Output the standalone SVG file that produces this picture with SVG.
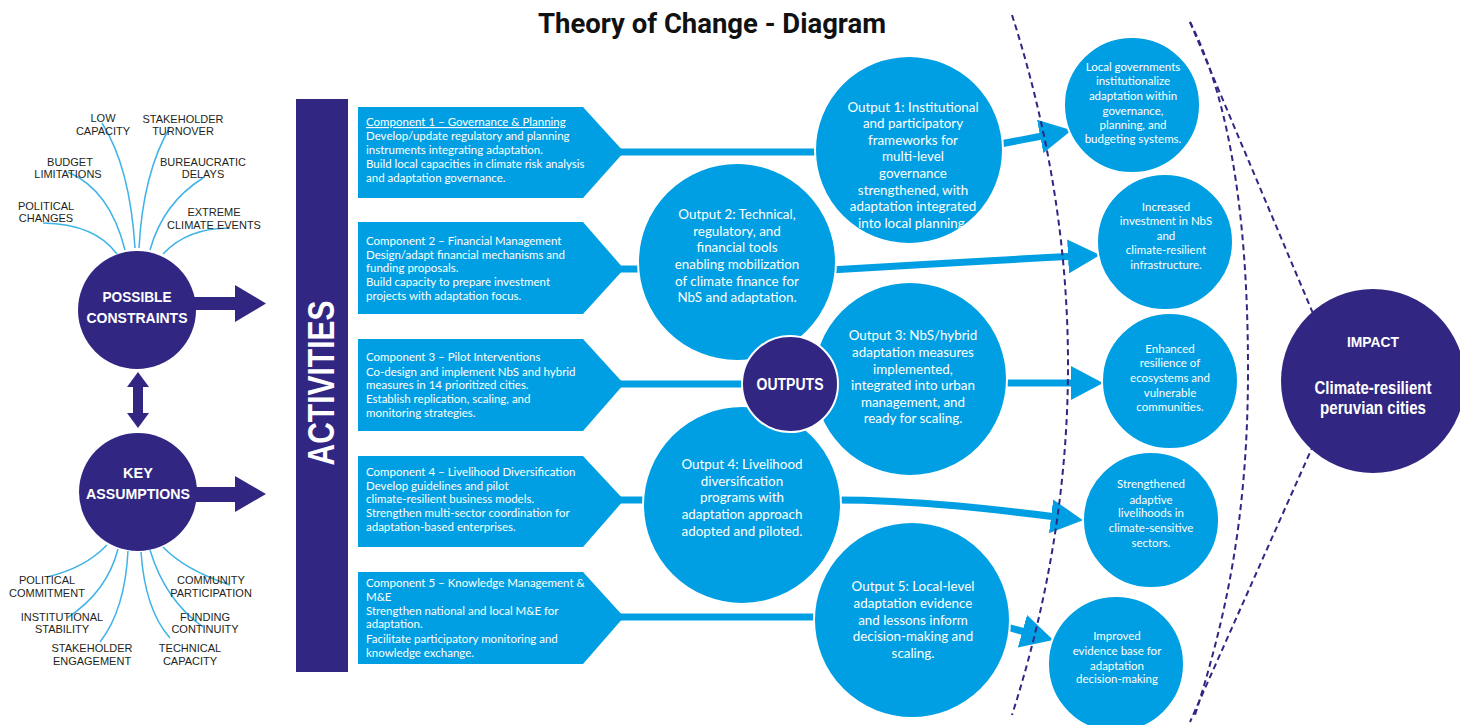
<svg xmlns="http://www.w3.org/2000/svg" width="1460" height="725" viewBox="0 0 1460 725">
<style>
.comp{fill:#009fe3}
.circ{fill:#009fe3;stroke:#fff;stroke-width:2}
.pur{fill:#312783}
.ct{font-family:Lato,"Liberation Sans",sans-serif;font-size:11.5px;fill:#fff}
.ot{font-family:Lato,"Liberation Sans",sans-serif;font-size:13.4px;fill:#fff;text-anchor:middle}
.rt{font-family:Lato,"Liberation Sans",sans-serif;font-size:11.5px;fill:#fff;text-anchor:middle}
.lbl{font-family:"Liberation Sans",Arial,sans-serif;font-size:11px;fill:#231f20;text-anchor:middle}
.wb{font-family:"Liberation Sans",Arial,sans-serif;font-weight:bold;fill:#fff;text-anchor:middle}
.thin{stroke:#3fb3e8;stroke-width:1.5;fill:none}
.conn{stroke:#009fe3;stroke-width:7;fill:none}
.dash{stroke:#312783;stroke-width:2;stroke-dasharray:6 4;fill:none}
</style>
<defs>
<marker id="ah" markerUnits="userSpaceOnUse" markerWidth="32" markerHeight="34" refX="10" refY="17" orient="auto">
<path d="M0,0 L32,17 L0,34 z" fill="#009fe3"/>
</marker>
</defs>

<text x="712" y="33" font-family="Roboto,'Liberation Sans',sans-serif" font-weight="bold" font-size="28" fill="#111" text-anchor="middle" textLength="348" lengthAdjust="spacingAndGlyphs">Theory of Change - Diagram</text>

<g id="constraint-lines">
<path class="thin" d="M43,223 Q95,224 117,254"/>
<path class="thin" d="M68,172 Q110,190 125,250"/>
<path class="thin" d="M102,123 Q130,167 135,248"/>
<path class="thin" d="M170,127 Q143,173 139,248"/>
<path class="thin" d="M203,178 Q163,203 150,250"/>
<path class="thin" d="M230,228 Q187,228 163,254"/>
<path class="thin" d="M107,545 Q85,568 47,577"/>
<path class="thin" d="M118,549 Q107,592 67,618"/>
<path class="thin" d="M128,551 Q125,610 100,642"/>
<path class="thin" d="M141,552 Q145,610 170,638"/>
<path class="thin" d="M150,550 Q165,600 203,627"/>
<path class="thin" d="M163,547 Q185,570 230,585"/>
</g>

<g id="constraint-labels">
<text class="lbl" x="103" y="122">LOW</text>
<text class="lbl" x="103" y="135">CAPACITY</text>
<text class="lbl" x="183" y="123">STAKEHOLDER</text>
<text class="lbl" x="183" y="135">TURNOVER</text>
<text class="lbl" x="70" y="166">BUDGET</text>
<text class="lbl" x="68" y="178">LIMITATIONS</text>
<text class="lbl" x="203" y="166">BUREAUCRATIC</text>
<text class="lbl" x="203" y="178">DELAYS</text>
<text class="lbl" x="46" y="210">POLITICAL</text>
<text class="lbl" x="46" y="222">CHANGES</text>
<text class="lbl" x="214" y="216">EXTREME</text>
<text class="lbl" x="214" y="229">CLIMATE EVENTS</text>
<text class="lbl" x="47" y="584">POLITICAL</text>
<text class="lbl" x="47" y="597">COMMITMENT</text>
<text class="lbl" x="62" y="621">INSTITUTIONAL</text>
<text class="lbl" x="62" y="633">STABILITY</text>
<text class="lbl" x="92" y="652">STAKEHOLDER</text>
<text class="lbl" x="92" y="665">ENGAGEMENT</text>
<text class="lbl" x="190" y="652">TECHNICAL</text>
<text class="lbl" x="190" y="665">CAPACITY</text>
<text class="lbl" x="205" y="621">FUNDING</text>
<text class="lbl" x="205" y="633">CONTINUITY</text>
<text class="lbl" x="211" y="584">COMMUNITY</text>
<text class="lbl" x="211" y="597">PARTICIPATION</text>
</g>

<g id="constraints">
<circle class="pur" cx="137" cy="310" r="59"/>
<text class="wb" font-size="14.5" x="137" y="302" textLength="69" lengthAdjust="spacingAndGlyphs">POSSIBLE</text>
<text class="wb" font-size="14.5" x="137" y="323" textLength="101" lengthAdjust="spacingAndGlyphs">CONSTRAINTS</text>
</g>
<g id="assumptions">
<circle class="pur" cx="138" cy="492" r="59"/>
<text class="wb" font-size="14.5" x="138" y="478">KEY</text>
<text class="wb" font-size="14.5" x="138" y="499" textLength="104" lengthAdjust="spacingAndGlyphs">ASSUMPTIONS</text>
</g>

<g id="left-arrows">
<path class="pur" d="M190,297 L235,297 L235,285 L266,303.5 L235,322 L235,310 L190,310 z"/>
<path class="pur" d="M190,487 L235,487 L235,476 L266,494 L235,512 L235,502 L190,502 z"/>
<path class="pur" d="M138,372 L149,387 L143,387 L143,413 L149,413 L138,428 L127,413 L133,413 L133,387 L127,387 z"/>
</g>

<g id="activities">
<rect class="pur" x="296" y="99" width="52" height="573"/>
<text class="wb" font-size="36" transform="translate(334,383) rotate(-90)" textLength="165" lengthAdjust="spacingAndGlyphs">ACTIVITIES</text>
</g>

<g id="connectors">
<line class="conn" x1="615" y1="152" x2="820" y2="152"/>
<line class="conn" x1="615" y1="269" x2="660" y2="269"/>
<line class="conn" x1="615" y1="384" x2="750" y2="384"/>
<line class="conn" x1="615" y1="500" x2="660" y2="500"/>
<line class="conn" x1="615" y1="617" x2="820" y2="617"/>
<path class="conn" d="M995,145 L1050,134.5" marker-end="url(#ah)"/>
<path class="conn" d="M830,270 Q960,262 1078,256" marker-end="url(#ah)"/>
<path class="conn" d="M1000,383 L1081,383" marker-end="url(#ah)"/>
<path class="conn" d="M835,500 C920,500 1000,510 1061,517.5" marker-end="url(#ah)"/>
<path class="conn" d="M1000,625 L1032,634" marker-end="url(#ah)"/>
</g>

<g id="component1">
<path class="comp" d="M358,107 L583,107 L624,152 L583,198 L358,198 z"/>
<text class="ct"><tspan x="366" y="126" text-decoration="underline">Component 1 – Governance &amp; Planning</tspan><tspan x="366" y="140">Develop/update regulatory and planning</tspan><tspan x="366" y="154">instruments integrating adaptation.</tspan><tspan x="366" y="168">Build local capacities in climate risk analysis</tspan><tspan x="366" y="182">and adaptation governance.</tspan></text>
</g>
<g id="component2">
<path class="comp" d="M358,222 L583,222 L624,269 L583,314 L358,314 z"/>
<text class="ct"><tspan x="366" y="245">Component 2 – Financial Management</tspan><tspan x="366" y="259">Design/adapt financial mechanisms and</tspan><tspan x="366" y="272">funding proposals.</tspan><tspan x="366" y="286">Build capacity to prepare investment</tspan><tspan x="366" y="300">projects with adaptation focus.</tspan></text>
</g>
<g id="component3">
<path class="comp" d="M358,339 L583,339 L624,384 L583,431 L358,431 z"/>
<text class="ct"><tspan x="366" y="361">Component 3 – Pilot Interventions</tspan><tspan x="366" y="376">Co-design and implement NbS and hybrid</tspan><tspan x="366" y="389">measures in 14 prioritized cities.</tspan><tspan x="366" y="403">Establish replication, scaling, and</tspan><tspan x="366" y="417">monitoring strategies.</tspan></text>
</g>
<g id="component4">
<path class="comp" d="M358,456 L583,456 L624,500 L583,547 L358,547 z"/>
<text class="ct"><tspan x="366" y="476">Component 4 – Livelihood Diversification</tspan><tspan x="366" y="490">Develop guidelines and pilot</tspan><tspan x="366" y="503">climate-resilient business models.</tspan><tspan x="366" y="517">Strengthen multi-sector coordination for</tspan><tspan x="366" y="531">adaptation-based enterprises.</tspan></text>
</g>
<g id="component5">
<path class="comp" d="M358,572 L583,572 L624,617 L583,664 L358,664 z"/>
<text class="ct"><tspan x="366" y="587">Component 5 – Knowledge Management &amp;</tspan><tspan x="366" y="601">M&amp;E</tspan><tspan x="366" y="615">Strengthen national and local M&amp;E for</tspan><tspan x="366" y="628">adaptation.</tspan><tspan x="366" y="643">Facilitate participatory monitoring and</tspan><tspan x="366" y="657">knowledge exchange.</tspan></text>
</g>

<g id="output1">
<circle class="circ" cx="909" cy="150" r="94"/>
<text class="ot"><tspan x="913" y="112">Output 1: Institutional</tspan><tspan x="913" y="128">and participatory</tspan><tspan x="913" y="145">frameworks for</tspan><tspan x="913" y="161">multi-level</tspan><tspan x="913" y="178">governance</tspan><tspan x="913" y="195">strengthened, with</tspan><tspan x="913" y="211">adaptation integrated</tspan><tspan x="913" y="228">into local planning.</tspan></text>
</g>
<g id="output2">
<circle class="circ" cx="737" cy="262" r="99"/>
<text class="ot"><tspan x="737" y="219">Output 2: Technical,</tspan><tspan x="737" y="236">regulatory, and</tspan><tspan x="737" y="252">financial tools</tspan><tspan x="737" y="269">enabling mobilization</tspan><tspan x="737" y="286">of climate finance for</tspan><tspan x="737" y="302">NbS and adaptation.</tspan></text>
</g>
<g id="output3">
<circle class="circ" cx="910" cy="379" r="97"/>
<text class="ot"><tspan x="913" y="340">Output 3: NbS/hybrid</tspan><tspan x="913" y="357">adaptation measures</tspan><tspan x="913" y="374">implemented,</tspan><tspan x="913" y="390">integrated into urban</tspan><tspan x="913" y="407">management, and</tspan><tspan x="913" y="423">ready for scaling.</tspan></text>
</g>
<g id="output4">
<circle class="circ" cx="742" cy="505" r="99"/>
<text class="ot"><tspan x="742" y="469">Output 4: Livelihood</tspan><tspan x="742" y="486">diversification</tspan><tspan x="742" y="502">programs with</tspan><tspan x="742" y="519">adaptation approach</tspan><tspan x="742" y="536">adopted and piloted.</tspan></text>
</g>
<g id="output5">
<circle class="circ" cx="912" cy="620" r="98"/>
<text class="ot"><tspan x="913" y="591">Output 5: Local-level</tspan><tspan x="913" y="608">adaptation evidence</tspan><tspan x="913" y="625">and lessons inform</tspan><tspan x="913" y="641">decision-making and</tspan><tspan x="913" y="658">scaling.</tspan></text>
</g>
<g id="outputs-hub">
<circle cx="790" cy="384" r="48" fill="#312783" stroke="#fff" stroke-width="2"/>
<text class="wb" font-size="16" x="790" y="390" textLength="67" lengthAdjust="spacingAndGlyphs">OUTPUTS</text>
</g>

<g id="outcome1">
<circle class="circ" cx="1132" cy="105" r="68"/>
<text class="rt"><tspan x="1133" y="71">Local governments</tspan><tspan x="1133" y="85">institutionalize</tspan><tspan x="1133" y="100">adaptation within</tspan><tspan x="1133" y="115">governance,</tspan><tspan x="1133" y="129">planning, and</tspan><tspan x="1133" y="143">budgeting systems.</tspan></text>
</g>
<g id="outcome2">
<circle class="circ" cx="1165" cy="242" r="68"/>
<text class="rt"><tspan x="1166" y="211">Increased</tspan><tspan x="1166" y="225">investment in NbS</tspan><tspan x="1166" y="240">and</tspan><tspan x="1166" y="254">climate-resilient</tspan><tspan x="1166" y="269">infrastructure.</tspan></text>
</g>
<g id="outcome3">
<circle class="circ" cx="1170" cy="381" r="68"/>
<text class="rt"><tspan x="1170" y="353">Enhanced</tspan><tspan x="1170" y="367">resilience of</tspan><tspan x="1170" y="382">ecosystems and</tspan><tspan x="1170" y="397">vulnerable</tspan><tspan x="1170" y="411">communities.</tspan></text>
</g>
<g id="outcome4">
<circle class="circ" cx="1151" cy="520" r="68"/>
<text class="rt"><tspan x="1151" y="488">Strengthened</tspan><tspan x="1151" y="504">adaptive</tspan><tspan x="1151" y="517">livelihoods in</tspan><tspan x="1151" y="532">climate-sensitive</tspan><tspan x="1151" y="547">sectors.</tspan></text>
</g>
<g id="outcome5">
<circle class="circ" cx="1116" cy="664" r="68"/>
<text class="rt"><tspan x="1117" y="640">Improved</tspan><tspan x="1117" y="655">evidence base for</tspan><tspan x="1117" y="670">adaptation</tspan><tspan x="1117" y="683">decision-making</tspan></text>
</g>

<g id="dividers">
<path class="dash" d="M1012,15 Q1124,365 1012,715"/>
<path class="dash" d="M1190,22 C1225,90 1248,200 1248,370 C1248,520 1225,620 1195,715"/>
<path class="dash" d="M1190,22 L1320,330 L1320,430 L1190,722"/>
</g>

<g id="impact">
<circle class="pur" cx="1373" cy="381" r="92"/>
<text class="wb" font-size="15" x="1373" y="347" textLength="52" lengthAdjust="spacingAndGlyphs">IMPACT</text>
<text class="wb" font-size="18" x="1373" y="394" textLength="117" lengthAdjust="spacingAndGlyphs">Climate-resilient</text>
<text class="wb" font-size="18" x="1373" y="414" textLength="106" lengthAdjust="spacingAndGlyphs">peruvian cities</text>
</g>
</svg>
